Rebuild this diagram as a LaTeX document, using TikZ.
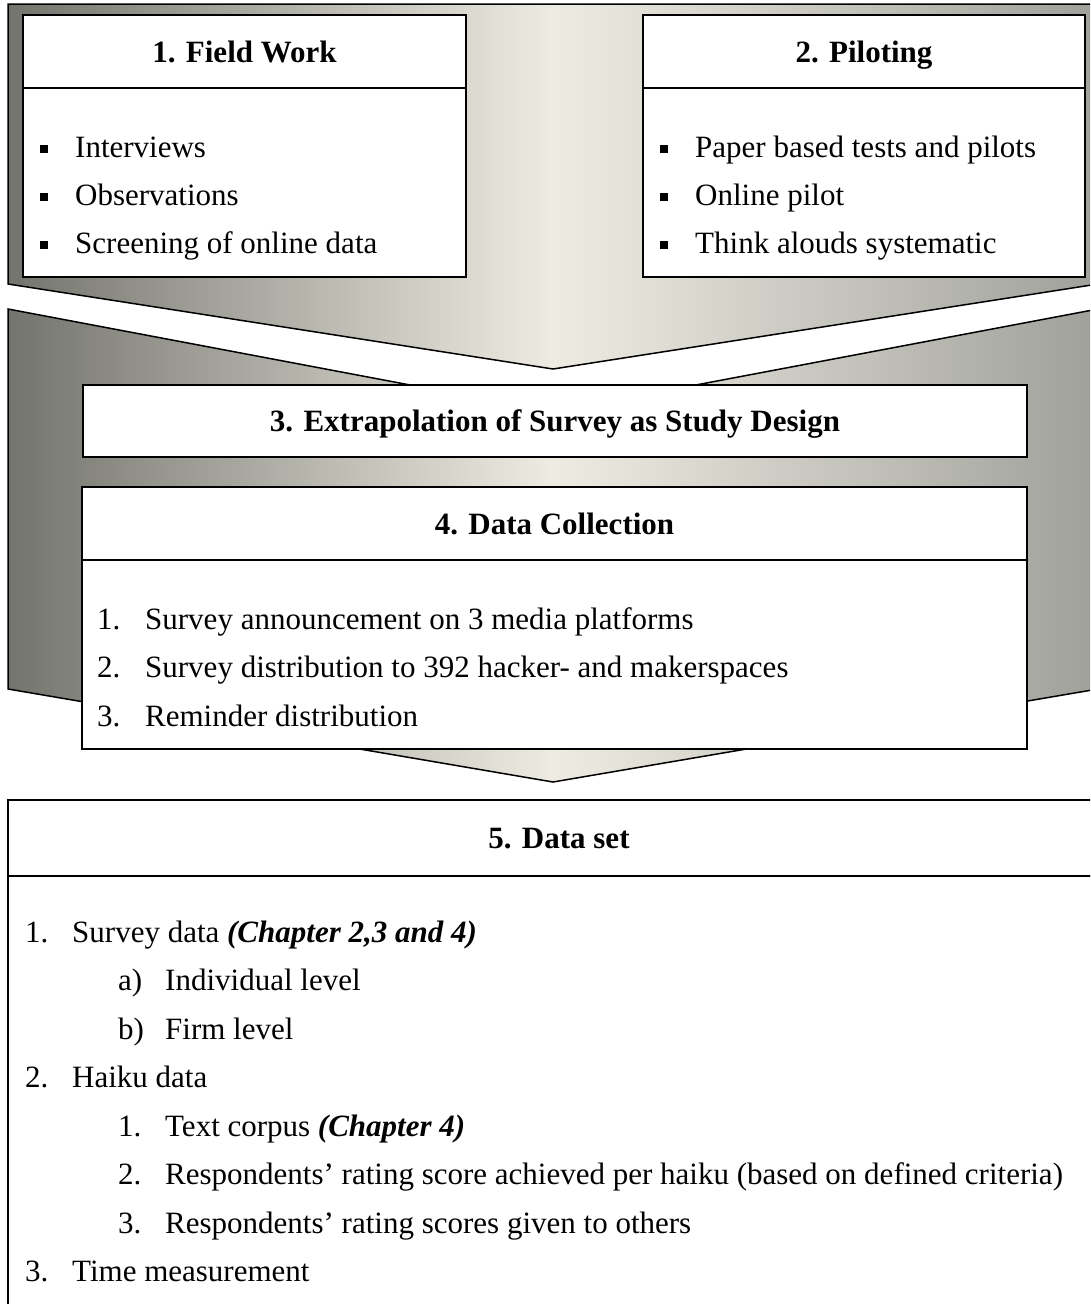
\documentclass[tikz,border=0pt]{standalone}
\usepackage{fontspec}
\setmainfont{Liberation Serif}
\usetikzlibrary{positioning}

\definecolor{chevdark}{RGB}{116,116,110}
\definecolor{chevlight}{RGB}{238,236,226}
\definecolor{chevside}{RGB}{160,160,155}

\newcommand{\sqbul}{\makebox[35pt][l]{\rule[4pt]{8pt}{8pt}}}

\begin{document}
\begin{tikzpicture}[x=1pt, y=-1pt,
    chev/.style={draw, line width=1.5pt, line join=miter, left color=chevdark, right color=chevside, middle color=chevlight},
    hd/.style={draw, line width=2pt, fill=white, outer sep=0pt, inner sep=0pt, text height=21pt, text depth=0pt, font=\fontsize{31}{37}\selectfont\bfseries},
    bd/.style={draw, line width=2pt, fill=white, outer sep=0pt},
    item/.style={anchor=base west, inner sep=0pt, font=\fontsize{31}{37}\selectfont}
]
\clip (0,0) rectangle (1090,1304);

% Chevrons
\draw[chev] (8,4) -- (1098,4) -- (1098,284) -- (553,369) -- (8,284) -- cycle;
\draw[chev] (8,309) -- (553,412) -- (1098,309) -- (1098,689) -- (553,782) -- (8,689) -- cycle;

% 1. Field Work
\node[hd, minimum width=443, minimum height=73] (fw) at (244.5,51.5) {1. Field Work};
\node[bd, minimum width=443, minimum height=189, below=0pt of fw] (fwbody) {};
\foreach \txt [count=\i] in {Interviews, Observations, Screening of online data}
    \node[item] (fw\i) at (40,109+48*\i) {\sqbul\txt};

% 2. Piloting
\node[hd, minimum width=442, minimum height=73] (pil) at (864,51.5) {2. Piloting};
\node[bd, minimum width=442, minimum height=189, below=0pt of pil] (pilbody) {};
\foreach \txt [count=\i] in {Paper based tests and pilots, Online pilot, Think alouds systematic}
    \node[item] (pil\i) at (660,109+48*\i) {\sqbul\txt};

% 3. Study design
\node[hd, minimum width=944, minimum height=72] (design) at (555,421) {3. Extrapolation of Survey as Study Design};

% 4. Data Collection
\node[hd, minimum width=945, minimum height=73] (coll) at (554.5,523.5) {4. Data Collection};
\node[bd, minimum width=945, minimum height=189, below=0pt of coll] (collbody) {};
\foreach \txt [count=\i] in {Survey announcement on 3 media platforms, Survey distribution to 392 hacker- and makerspaces, Reminder distribution}
    \node[item] (coll\i) at (97,580.5+48.5*\i) {\makebox[48pt][l]{\i.}\txt};

% 5. Data set
\node[hd, minimum width=1102, minimum height=76] (data) at (559,838) {5. Data set};
\node[bd, minimum width=1102, minimum height=460, below=0pt of data] (databody) {};
\foreach \x/\n/\txt [count=\i] in {
    25/1./{Survey data \textbf{\textit{(Chapter 2,3 and 4)}}},
    118/a)/{Individual level},
    118/b)/{Firm level},
    25/2./{Haiku data},
    118/1./{Text corpus \textbf{\textit{(Chapter 4)}}},
    118/2./{Respondents’ rating score achieved per haiku (based on defined criteria)},
    118/3./{Respondents’ rating scores given to others},
    25/3./{Time measurement}}
    \node[item] (data\i) at (\x,893.5+48.5*\i) {\makebox[47pt][l]{\n}\txt};

\end{tikzpicture}
\end{document}
